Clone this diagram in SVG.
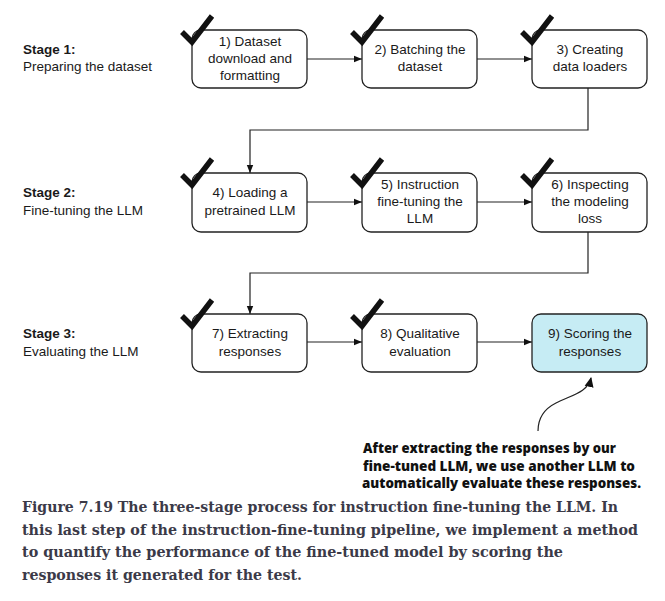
<svg xmlns="http://www.w3.org/2000/svg" width="665" height="601" viewBox="0 0 665 601">
<defs>
<style>
.box{fill:#fff;stroke:#222;stroke-width:1.3}
.hl{fill:#c6ecf4}
.t{font-family:"Liberation Sans",Arial,sans-serif;font-size:13.5px;fill:#1a1a1a;text-anchor:middle}
.s{font-family:"Liberation Sans",Arial,sans-serif;font-size:13.5px;fill:#1a1a1a}
.sb{font-weight:bold}
.chk{fill:none;stroke:#111;stroke-width:5.5;stroke-linejoin:miter;stroke-linecap:butt}
.c{fill:none;stroke:#222;stroke-width:1.2}
.ann{font-family:"Open Sans","Liberation Sans",sans-serif;font-weight:800;font-size:14.5px;fill:#111}
.cap{font-family:"DejaVu Serif","Liberation Serif",serif;font-weight:bold;font-size:14px;fill:#3b3a48}
</style>
<marker id="ah" viewBox="0 0 10 10" refX="10" refY="5" markerWidth="8" markerHeight="8" markerUnits="userSpaceOnUse" orient="auto">
<path d="M0,1 L10,5 L0,9 z" fill="#111"/>
</marker>
<marker id="ah2" viewBox="0 0 10 10" refX="9" refY="5" markerWidth="10" markerHeight="10" markerUnits="userSpaceOnUse" orient="auto">
<path d="M0,0.5 L10,5 L0,9.5 z" fill="#111"/>
</marker>
</defs>
<rect width="665" height="601" fill="#fff"/>

<g id="stages">
<text class="s sb" x="23" y="54">Stage 1:</text>
<text class="s" x="23" y="71">Preparing the dataset</text>
<text class="s sb" x="23" y="197">Stage 2:</text>
<text class="s" x="23" y="215">Fine-tuning the LLM</text>
<text class="s sb" x="23" y="338">Stage 3:</text>
<text class="s" x="23" y="356">Evaluating the LLM</text>
</g>

<g id="connectors">
<line class="c" x1="307" y1="59" x2="362" y2="59" marker-end="url(#ah)"/>
<line class="c" x1="477" y1="59" x2="532" y2="59" marker-end="url(#ah)"/>
<polyline class="c" points="588,88 588,130 250,130 250,173" marker-end="url(#ah)"/>
<line class="c" x1="307" y1="202" x2="362" y2="202" marker-end="url(#ah)"/>
<line class="c" x1="477" y1="202" x2="532" y2="202" marker-end="url(#ah)"/>
<polyline class="c" points="588,232 588,273 250,273 250,314" marker-end="url(#ah)"/>
<line class="c" x1="307" y1="342" x2="362" y2="342" marker-end="url(#ah)"/>
<line class="c" x1="477" y1="342" x2="532" y2="342" marker-end="url(#ah)"/>
<path class="c" d="M538,431 C538,420 542,410 556,403 C572,395 588,392 591,378" marker-end="url(#ah2)"/>
</g>

<g id="n1">
<rect class="box" x="192" y="30" width="115" height="58" rx="9"/>
<text class="t" x="250" y="46">1) Dataset</text>
<text class="t" x="250" y="63">download and</text>
<text class="t" x="250" y="80">formatting</text>
<path class="chk" d="M182,32 L192,42 L212,16"/>
</g>
<g id="n2">
<rect class="box" x="362" y="30" width="115" height="58" rx="9"/>
<text class="t" x="420" y="54">2) Batching the</text>
<text class="t" x="420" y="71">dataset</text>
<path class="chk" d="M352,32 L362,42 L382,16"/>
</g>
<g id="n3">
<rect class="box" x="532" y="30" width="115" height="58" rx="9"/>
<text class="t" x="590" y="54">3) Creating</text>
<text class="t" x="590" y="71">data loaders</text>
<path class="chk" d="M522,32 L532,42 L552,16"/>
</g>

<g id="n4">
<rect class="box" x="192" y="173" width="115" height="59" rx="9"/>
<text class="t" x="250" y="197">4) Loading a</text>
<text class="t" x="250" y="215">pretrained LLM</text>
<path class="chk" d="M182,175 L192,185 L212,159"/>
</g>
<g id="n5">
<rect class="box" x="362" y="173" width="115" height="59" rx="9"/>
<text class="t" x="420" y="189">5) Instruction</text>
<text class="t" x="420" y="206">fine-tuning the</text>
<text class="t" x="420" y="223">LLM</text>
<path class="chk" d="M352,175 L362,185 L382,159"/>
</g>
<g id="n6">
<rect class="box" x="532" y="173" width="115" height="59" rx="9"/>
<text class="t" x="590" y="189">6) Inspecting</text>
<text class="t" x="590" y="206">the modeling</text>
<text class="t" x="590" y="223">loss</text>
<path class="chk" d="M522,175 L532,185 L552,159"/>
</g>

<g id="n7">
<rect class="box" x="192" y="314" width="115" height="58" rx="9"/>
<text class="t" x="250" y="338">7) Extracting</text>
<text class="t" x="250" y="356">responses</text>
<path class="chk" d="M182,316 L192,326 L212,300"/>
</g>
<g id="n8">
<rect class="box" x="362" y="314" width="115" height="58" rx="9"/>
<text class="t" x="420" y="338">8) Qualitative</text>
<text class="t" x="420" y="356">evaluation</text>
<path class="chk" d="M352,316 L362,326 L382,300"/>
</g>
<g id="n9">
<rect class="box hl" x="532" y="314" width="115" height="58" rx="9"/>
<text class="t" x="590" y="338">9) Scoring the</text>
<text class="t" x="590" y="356">responses</text>
</g>

<g id="annotation">
<text class="ann" x="363" y="453" textLength="253" lengthAdjust="spacingAndGlyphs">After extracting the responses by our</text>
<text class="ann" x="363" y="470.5" textLength="272" lengthAdjust="spacingAndGlyphs">fine-tuned LLM, we use another LLM to</text>
<text class="ann" x="362" y="488" textLength="279" lengthAdjust="spacingAndGlyphs">automatically evaluate these responses.</text>
</g>

<g id="caption">
<text class="cap" x="22" y="512" textLength="596" lengthAdjust="spacingAndGlyphs">Figure 7.19 The three-stage process for instruction fine-tuning the LLM. In</text>
<text class="cap" x="22" y="535" textLength="616" lengthAdjust="spacingAndGlyphs">this last step of the instruction-fine-tuning pipeline, we implement a method</text>
<text class="cap" x="22" y="557" textLength="541" lengthAdjust="spacingAndGlyphs">to quantify the performance of the fine-tuned model by scoring the</text>
<text class="cap" x="22" y="580" textLength="280" lengthAdjust="spacingAndGlyphs">responses it generated for the test.</text>
</g>
</svg>
